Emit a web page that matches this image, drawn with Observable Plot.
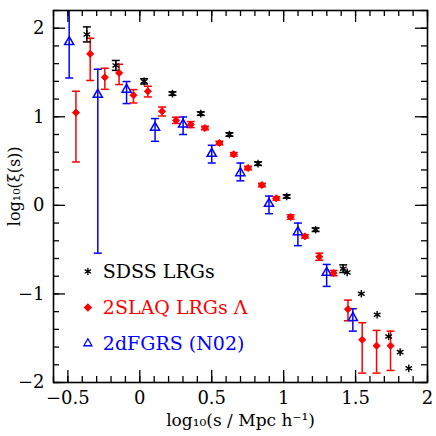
<!DOCTYPE html>
<html><head><meta charset="utf-8">
<script src="https://cdn.jsdelivr.net/npm/d3@7"></script>
<script src="https://cdn.jsdelivr.net/npm/@observablehq/plot@0.6"></script>
<style>body{margin:0;background:#fff}#chart{width:436px;height:436px}</style>
</head><body><div id="chart"></div>
<script>
// SDSS LRGs (black asterisks)
const sdssX = [-0.368,-0.167,0.030,0.227,0.424,0.623,0.822,1.021,1.222,1.414,1.442,1.540,1.650,1.730,1.810,1.870];
const sdssY = [1.93,1.58,1.40,1.262,1.036,0.80,0.471,0.10,-0.275,-0.715,-0.757,-0.998,-1.235,-1.48,-1.657,-1.84];
const sdssErr = [0.085,0.056,0.03,0.02,0.02,0.02,0.02,0.02,0.02,0.043,0,0,0,0,0,0];
// 2SLAQ LRGs (red diamonds)
const slaqX = [-0.444,-0.345,-0.243,-0.144,-0.044,0.056,0.155,0.252,0.354,0.453,0.553,0.653,0.752,0.849,0.949,1.049,1.148,1.248,1.347,1.447,1.546,1.646,1.743];
const slaqY = [1.047,1.71,1.446,1.495,1.243,1.288,1.062,0.96,0.912,0.873,0.704,0.576,0.421,0.229,0.079,-0.132,-0.35,-0.58,-0.765,-1.172,-1.518,-1.585,-1.585];
const slaqHi = [1.288,1.887,1.548,1.593,1.307,1.345,1.11,0.995,0.946,0.893,0.724,0.596,0.441,0.249,0.099,-0.107,-0.33,-0.54,-0.735,-1.07,-1.325,-1.412,-1.42];
const slaqLo = [0.49,1.41,1.31,1.364,1.156,1.224,1.009,0.925,0.878,0.853,0.684,0.556,0.401,0.209,0.059,-0.157,-0.37,-0.62,-0.795,-1.303,-1.894,-1.894,-1.864];
// 2dFGRS (N02) (blue open triangles)
const twodfX = [-0.491,-0.292,-0.092,0.106,0.301,0.5,0.699,0.898,1.099,1.299,1.481];
const twodfY = [1.845,1.25,1.307,0.878,0.915,0.584,0.365,0.019,-0.302,-0.76,-1.269];
const twodfHi = [2.4,1.537,1.398,0.98,0.998,0.678,0.478,0.105,-0.2,-0.667,-1.167];
const twodfLo = [1.438,-0.54,1.149,0.723,0.80,0.478,0.277,-0.094,-0.455,-0.915,-1.42];
// axes
const xMajor = [-0.5,0,0.5,1,1.5,2];
const xTickLabels = ["\u22120.5","0","0.5","1","1.5","2"];
const yMajor = [-2,-1,0,1,2];
const yTickLabels = ["\u22122","\u22121","0","1","2"];
const xMinor = d3.range(-6,21).map(i=>i/10);
const yMinor = d3.range(-10,12).map(i=>i/5);
const xTitle = "log\u2081\u2080(s / Mpc h\u207b\u00b9)";
const yTitle = "log\u2081\u2080(\u03be(s))";
const yTitlePos = [0.215];
// legend
const legendLabels = ["SDSS LRGs","2SLAQ LRGs \u039b","2dFGRS (N02)"];
const legendColors = ["black","red","blue"];
const legendSymbols = ["asterisk","diamond2","triangle"];
const legendX = [-0.361,-0.257];
const legendY = [-0.746,-1.153,-1.559];

const W=436,H=436,mL=53,mR=9,mT=10,mB=54;
const fw=W-mL-mR, fh=H-mT-mB;
const capSym = {draw(ctx){ctx.moveTo(-4,0);ctx.lineTo(4,0);}};

const sdss = sdssX.map((x,i)=>({x,y:sdssY[i],lo:sdssY[i]-sdssErr[i],hi:sdssY[i]+sdssErr[i],e:sdssErr[i]}));
const sdssE = sdss.filter(d=>d.e>0);
const slaq = slaqX.map((x,i)=>({x,y:slaqY[i],lo:slaqLo[i],hi:slaqHi[i]}));
const twodf = twodfX.map((x,i)=>({x,y:twodfY[i],lo:twodfLo[i],hi:twodfHi[i]}));
const caps = (arr)=>arr.flatMap(d=>[{x:d.x,y:d.lo},{x:d.x,y:d.hi}]);
const legend = legendLabels.map((t,i)=>({t,c:legendColors[i],s:legendSymbols[i],y:legendY[i]}));

const font = "'DejaVu Serif', serif";
const chart = Plot.plot({
  width:W, height:H, marginLeft:mL, marginRight:mR, marginTop:mT, marginBottom:mB,
  style:{fontFamily:font, background:"white"},
  x:{domain:[-0.6,2]}, y:{domain:[-2,2.2]},
  marks:[
    // error bars
    Plot.ruleX(twodf,{x:"x",y1:"lo",y2:"hi",stroke:"blue",strokeWidth:1.5,clip:true}),
    Plot.dot(caps(twodf),{x:"x",y:"y",symbol:capSym,stroke:"blue",fill:"none",strokeWidth:1.5,clip:true}),
    Plot.ruleX(slaq,{x:"x",y1:"lo",y2:"hi",stroke:"red",strokeWidth:1.5,clip:true}),
    Plot.dot(caps(slaq),{x:"x",y:"y",symbol:capSym,stroke:"red",fill:"none",strokeWidth:1.5,clip:true}),
    Plot.ruleX(sdssE,{x:"x",y1:"lo",y2:"hi",stroke:"black",strokeWidth:1.5}),
    Plot.dot(caps(sdssE),{x:"x",y:"y",symbol:capSym,stroke:"black",fill:"none",strokeWidth:1.5}),
    // markers
    Plot.dot(twodf,{x:"x",y:"y",symbol:"triangle",r:3.4,stroke:"blue",fill:"none",strokeWidth:1.5}),
    Plot.dot(slaq,{x:"x",y:"y",symbol:"diamond2",r:3.2,fill:"red",stroke:"red",strokeWidth:1}),
    Plot.dot(sdss,{x:"x",y:"y",symbol:"asterisk",r:3.6,stroke:"black",strokeWidth:1.4}),
    // legend
    Plot.dot(legend,{x:()=>legendX[0],y:"y",symbol:"s",stroke:"c",fill:d=>d.s==="diamond2"?d.c:"none",r:d=>d.s==="asterisk"?3.2:2.4,strokeWidth:1.3}),
    Plot.text(legend,{x:()=>legendX[1],y:"y",text:"t",fill:"c",textAnchor:"start",fontSize:19,fontWeight:300}),
    // frame & ticks
    Plot.frame({stroke:"black",strokeWidth:1.6}),
    Plot.ruleX(xMinor,{x:d=>d,insetTop:fh-6,stroke:"black",strokeWidth:1.3}),
    Plot.ruleX(xMinor,{x:d=>d,insetBottom:fh-6,stroke:"black",strokeWidth:1.3}),
    Plot.ruleX(xMajor,{x:d=>d,insetTop:fh-12,stroke:"black",strokeWidth:1.3}),
    Plot.ruleX(xMajor,{x:d=>d,insetBottom:fh-12,stroke:"black",strokeWidth:1.3}),
    Plot.ruleY(yMinor,{y:d=>d,insetRight:fw-6,stroke:"black",strokeWidth:1.3}),
    Plot.ruleY(yMinor,{y:d=>d,insetLeft:fw-6,stroke:"black",strokeWidth:1.3}),
    Plot.ruleY(yMajor,{y:d=>d,insetRight:fw-12,stroke:"black",strokeWidth:1.3}),
    Plot.ruleY(yMajor,{y:d=>d,insetLeft:fw-12,stroke:"black",strokeWidth:1.3}),
    // axis labels
    Plot.axisX(xMajor,{anchor:"bottom",tickSize:0,tickPadding:9,fontSize:18,label:null,tickFormat:d=>xTickLabels[xMajor.indexOf(d)]}),
    Plot.axisY(yMajor,{anchor:"left",tickSize:0,tickPadding:9,fontSize:18,label:null,tickFormat:d=>yTickLabels[yMajor.indexOf(d)]}),
    Plot.text([xTitle],{frameAnchor:"bottom",dy:43,fontSize:17,text:d=>d}),
    Plot.text(yTitlePos,{y:d=>d,frameAnchor:"left",dx:-39,rotate:-90,textAnchor:"middle",fontSize:16,text:()=>yTitle})
  ]
});
document.getElementById("chart").appendChild(chart);
</script></body></html>
